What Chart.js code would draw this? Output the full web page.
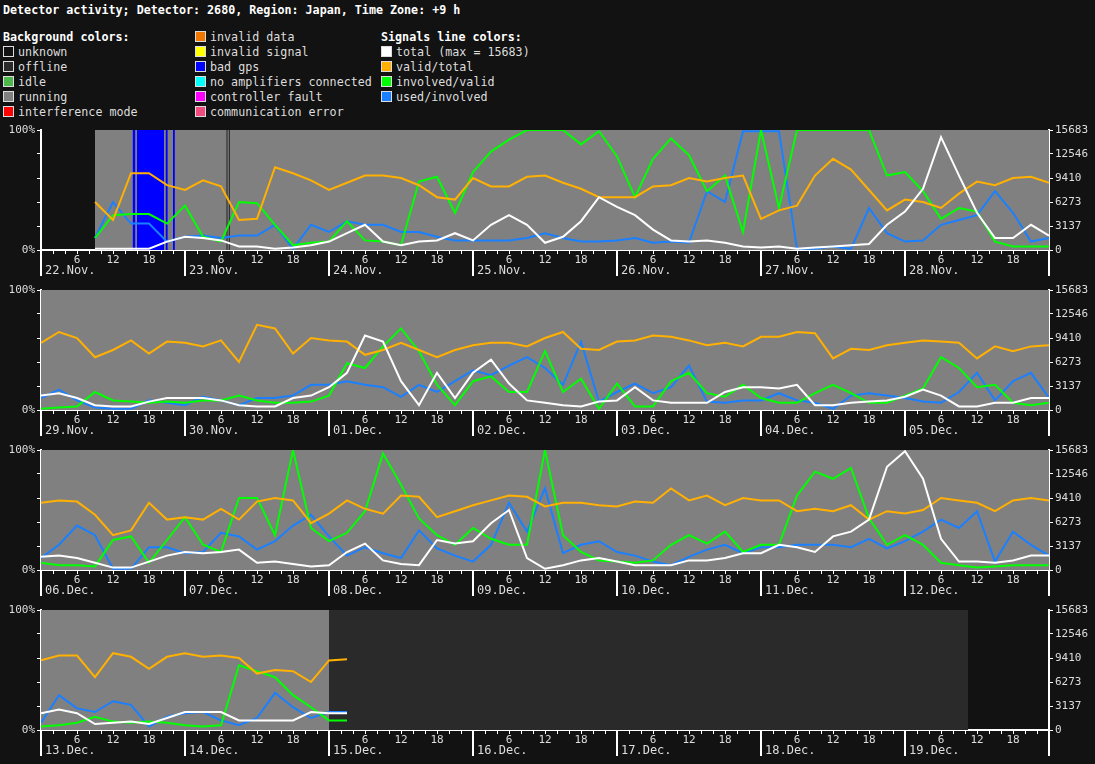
<!DOCTYPE html>
<html>
<head>
<meta charset="utf-8">
<script src="https://cdn.jsdelivr.net/npm/chart.js@4.4.0/dist/chart.umd.min.js"></script>
<style>
  body { margin: 0; background: #121212; color: #ddd; font: 11.7px "DejaVu Sans Mono", monospace; }
  #title { position: absolute; left: 3px; top: 3px; font-weight: bold; color: #fff; }
  .col { position: absolute; top: 30px; line-height: 15px; }
  .col b { color: #fff; }
  .sq { display: inline-block; width: 9px; height: 9px; border: 1px solid #ddd; margin-right: 4px; vertical-align: -1px; }
  canvas { position: absolute; left: 0; }
</style>
</head>
<body>
<div id="title">Detector activity; Detector: 2680, Region: Japan, Time Zone: +9 h</div>
<div class="col" style="left:3px">
  <b>Background colors:</b><br>
  <span class="sq" style="background:#121212"></span>unknown<br>
  <span class="sq" style="background:#2a2a2a"></span>offline<br>
  <span class="sq" style="background:#4cb84c"></span>idle<br>
  <span class="sq" style="background:#808080"></span>running<br>
  <span class="sq" style="background:#ff0000"></span>interference mode
</div>
<div class="col" style="left:195px">
  <span class="sq" style="background:#f07800"></span>invalid data<br>
  <span class="sq" style="background:#ffff00"></span>invalid signal<br>
  <span class="sq" style="background:#0000ff"></span>bad gps<br>
  <span class="sq" style="background:#00ffff"></span>no amplifiers connected<br>
  <span class="sq" style="background:#ff00ff"></span>controller fault<br>
  <span class="sq" style="background:#f04c80"></span>communication error
</div>
<div class="col" style="left:381px">
  <b>Signals line colors:</b><br>
  <span class="sq" style="background:#fff"></span>total (max = 15683)<br>
  <span class="sq" style="background:#ffb000"></span>valid/total<br>
  <span class="sq" style="background:#00ff00"></span>involved/valid<br>
  <span class="sq" style="background:#1a80ff"></span>used/involved
</div>
<canvas id="c0" width="1095" height="160" style="top:120px"></canvas>
<canvas id="c1" width="1095" height="160" style="top:280px"></canvas>
<canvas id="c2" width="1095" height="160" style="top:440px"></canvas>
<canvas id="c3" width="1095" height="160" style="top:600px"></canvas>
<script>
// hours since panel start, sampled every 3 h; values in % of the plot height
const hours = [];
for (let h = 0; h <= 168; h += 3) hours.push(h);
const hours4 = [0,3,6,9,12,15,18,21,24,27,30,33,36,39,42,45,48,51];
const rightTicks = [0, 3137, 6273, 9410, 12546, 15683];

const dayLabels1 = ["22.Nov.","23.Nov.","24.Nov.","25.Nov.","26.Nov.","27.Nov.","28.Nov."];
const dayLabels2 = ["29.Nov.","30.Nov.","01.Dec.","02.Dec.","03.Dec.","04.Dec.","05.Dec."];
const dayLabels3 = ["06.Dec.","07.Dec.","08.Dec.","09.Dec.","10.Dec.","11.Dec.","12.Dec."];
const dayLabels4 = ["13.Dec.","14.Dec.","15.Dec.","16.Dec.","17.Dec.","18.Dec.","19.Dec."];

// background states: [from hour, to hour, colour]
const bg1 = [[9,168,"#808080"],[15.3,15.7,"#0000ff"],[16,20.5,"#0000ff"],[20.8,21.1,"#0000ff"],[22,22.3,"#0000ff"],[30.9,31.1,"#303030"],[31.3,31.5,"#303030"]];
const bg2 = [[0,168,"#808080"]];
const bg3 = [[0,168,"#808080"]];
const bg4 = [[0,48,"#808080"],[48,154.5,"#2a2a2a"]];

// panel 1: 22.Nov - 28.Nov
const valid1 = [null,null,null,40,25,64,64,54,50,58,53,25,26,69,64,58,50,56,62,62,60,54,44,42,60,53,53,61,62,
  56,51,44,44,44,53,54,60,57,60,62,26,33,37,62,76,67,50,33,42,40,35,47,57,54,60,61,56];
const involved1 = [null,null,null,10,29,30,30,22,37,11,7,40,39,21,4,6,7,24,8,7,4,57,61,31,65,82,92,100,100,
  100,88,99,78,44,76,93,79,49,62,15,100,35,100,100,100,100,100,62,65,49,26,35,32,7,3,3,3];
const used1 = [null,null,null,10,40,22,22,7,11,12,10,12,12,21,1,21,15,24,21,21,15,15,11,8,8,8,8,10,14,
  10,7,7,8,10,6,7,6,49,40,99,99,99,1,1,3,1,35,14,7,8,21,25,29,49,31,7,10];
const total1 = [null,null,null,1,1,1,1,7,11,10,8,3,3,1,2,4,7,14,21,7,4,7,8,14,8,21,29,21,6,
  11,24,44,36,29,17,8,7,8,6,3,2,3,1,2,3,4,5,21,32,51,94,62,31,10,10,21,12];

// panel 2: 29.Nov - 05.Dec
const valid2 = [56,65,60,44,50,58,47,57,56,53,58,40,71,68,47,60,58,57,46,50,56,50,44,50,54,56,56,53,
  60,65,51,50,57,58,62,61,58,54,56,53,61,61,65,64,43,51,50,54,56,58,57,56,43,53,49,53,54];
const involved2 = [1,2,3,15,8,7,6,7,6,8,8,12,8,6,6,7,12,39,35,53,68,49,21,4,24,28,15,15,
  49,15,26,1,22,3,3,24,31,14,11,21,10,6,6,14,21,14,6,6,12,18,44,35,19,21,6,4,6];
const used2 = [10,17,8,2,1,1,8,6,4,11,8,4,10,10,12,21,21,24,21,19,11,21,15,24,33,29,37,44,
  35,21,57,7,15,22,14,19,37,7,6,8,8,14,8,6,1,12,14,12,10,7,6,15,31,8,24,31,10];
const total2 = [12,14,10,4,3,3,7,10,10,10,8,4,3,3,10,12,19,31,62,57,24,4,31,10,31,42,22,8,
  6,4,3,7,8,19,8,6,6,6,15,19,19,18,21,4,4,6,7,8,11,17,12,3,3,6,6,10,10];

// panel 3: 06.Dec - 12.Dec
const valid3 = [56,58,57,46,29,33,56,42,44,42,51,42,57,60,58,39,47,58,51,47,62,61,44,49,54,58,62,61,
  53,56,56,54,53,57,56,68,58,62,54,60,58,58,49,51,49,54,42,49,47,50,60,58,56,49,58,60,58];
const involved3 = [6,4,4,3,25,28,6,25,44,21,15,60,60,29,100,35,24,31,49,97,71,43,29,21,35,26,21,21,
  100,29,15,8,7,6,8,21,29,22,32,15,21,21,62,82,76,85,43,21,29,21,6,4,2,3,4,4,4];
const used3 = [10,21,37,29,1,1,19,19,14,15,31,28,17,24,37,46,28,12,19,14,10,33,18,12,7,21,56,32,
  68,14,21,24,15,12,7,4,11,17,21,14,19,19,21,21,21,19,26,18,24,32,42,35,49,7,32,21,12];
const total3 = [11,12,10,6,2,2,7,12,15,14,15,17,6,7,5,3,4,15,22,8,5,4,25,22,24,39,50,10,
  1,4,8,10,7,4,4,4,8,8,10,14,14,21,19,15,28,32,42,86,99,76,26,7,7,6,8,12,12];

// panel 4: 13.Dec - 15.Dec (data ends)
const valid4 = [58,62,62,44,64,61,51,61,64,61,62,60,47,50,49,40,58,59];
const involved4 = [3,4,6,11,7,6,7,6,4,3,4,54,49,44,29,19,8,8];
const used4 = [6,29,18,15,24,21,3,11,14,15,8,4,10,31,19,10,15,15];
const total4 = [14,17,14,5,6,7,5,10,15,15,15,8,8,8,8,15,14,14];

const panels = [
  { id: "c0", x: hours, valid: valid1, involved: involved1, used: used1, total: total1, days: dayLabels1, bg: bg1 },
  { id: "c1", x: hours, valid: valid2, involved: involved2, used: used2, total: total2, days: dayLabels2, bg: bg2 },
  { id: "c2", x: hours, valid: valid3, involved: involved3, used: used3, total: total3, days: dayLabels3, bg: bg3 },
  { id: "c3", x: hours4, valid: valid4, involved: involved4, used: used4, total: total4, days: dayLabels4, bg: bg4 }
];

const FONT = { family: "DejaVu Sans Mono", size: 11 };

// background state rectangles + day separators and labels
const panelDecor = {
  id: "panelDecor",
  beforeDatasetsDraw(chart, args, opts) {
    const { ctx, chartArea: a, scales: { x } } = chart;
    ctx.save();
    opts.bg.forEach(([s, e, c]) => {
      const x0 = x.getPixelForValue(s), x1 = x.getPixelForValue(e);
      ctx.fillStyle = c;
      ctx.fillRect(x0, a.top, Math.max(1, x1 - x0), a.bottom - a.top);
    });
    ctx.restore();
  },
  afterDraw(chart, args, opts) {
    const { ctx, chartArea: a, scales: { x } } = chart;
    ctx.save();
    ctx.strokeStyle = "#fff";
    ctx.lineWidth = 2;
    ctx.fillStyle = "#ddd";
    ctx.font = "12px 'DejaVu Sans Mono'";
    ctx.textBaseline = "middle";
    opts.days.forEach((d, i) => {
      const px = x.getPixelForValue(i * 24);
      ctx.beginPath();
      ctx.moveTo(px, a.bottom);
      ctx.lineTo(px, a.bottom + 26);
      ctx.stroke();
      ctx.fillText(d, px + 4, a.bottom + 21);
    });
    const pr = x.getPixelForValue(168);
    ctx.beginPath();
    ctx.moveTo(pr, a.bottom);
    ctx.lineTo(pr, a.bottom + 26);
    ctx.stroke();
    ctx.restore();
  }
};

function line(data, color, xs) {
  return {
    data: data.map((v, i) => ({ x: xs[i], y: v })),
    borderColor: color, borderWidth: 2, pointRadius: 0, tension: 0, spanGaps: false
  };
}

panels.forEach(p => {
  new Chart(document.getElementById(p.id), {
    type: "line",
    data: {
      datasets: [
        line(p.total, "#ffffff", p.x),
        line(p.valid, "#ffb000", p.x),
        line(p.involved, "#00ff00", p.x),
        line(p.used, "#1a80ff", p.x)
      ]
    },
    options: {
      responsive: false, animation: false,
      layout: { padding: { top: 10, left: 0, right: 0 } },
      plugins: { legend: { display: false }, tooltip: { enabled: false }, panelDecor: { bg: p.bg, days: p.days } },
      scales: {
        x: {
          type: "linear", min: 0, max: 168,
          afterFit: s => { s.height = 30; },
          afterBuildTicks: s => { s.ticks = []; for (let h = 0; h <= 168; h += 2) s.ticks.push({ value: h }); },
          border: { color: "#fff", width: 2 },
          grid: { drawOnChartArea: false, color: "#fff", tickLength: 4, lineWidth: 1 },
          ticks: { color: "#ddd", font: FONT, padding: 0, autoSkip: false, maxRotation: 0,
            callback: v => (v % 24 === 0 || v % 6 !== 0) ? "" : String(v % 24) }
        },
        y: {
          position: "left", min: 0, max: 100,
          afterFit: s => { s.width = 41; },
          afterBuildTicks: s => { s.ticks = []; for (let v = 0; v <= 100; v += 10) s.ticks.push({ value: v }); },
          border: { color: "#fff", width: 2 },
          grid: { drawOnChartArea: false, color: "#fff", tickLength: 4 },
          ticks: { color: "#ddd", font: FONT, padding: 2, callback: v => (v === 0 || v === 100) ? v + "%" : "" }
        },
        y2: {
          position: "right", min: 0, max: 100,
          afterFit: s => { s.width = 46; },
          afterBuildTicks: s => { s.ticks = []; for (let v = 0; v <= 100; v += 10) s.ticks.push({ value: v }); },
          border: { color: "#fff", width: 2 },
          grid: { drawOnChartArea: false, color: "#fff", tickLength: 4 },
          ticks: { color: "#ddd", font: FONT, padding: 2,
            callback: v => v % 20 === 0 ? String(rightTicks[v / 20]) : "" }
        }
      }
    },
    plugins: [panelDecor]
  });
});
</script>
</body>
</html>
